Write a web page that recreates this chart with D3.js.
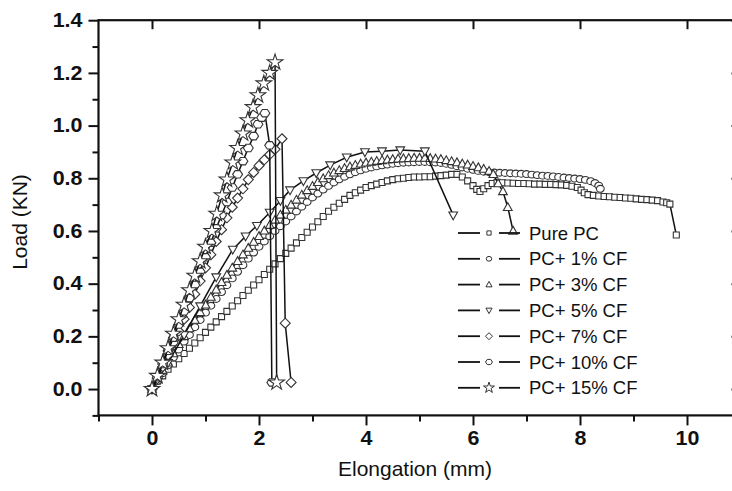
<!DOCTYPE html>
<html>
<head>
<meta charset="utf-8">
<script src="https://cdn.jsdelivr.net/npm/d3@7"></script>
<style>
  body { margin: 0; background: #fff; }
  svg text { font-family: Arial, "Liberation Sans", sans-serif; fill: #111; }
</style>
</head>
<body>
<div id="chart"></div>
<script>
// series: [elongation mm, load kN]
const seriesLabels = ["Pure PC", "PC+ 1% CF", "PC+ 3% CF", "PC+ 5% CF", "PC+ 7% CF", "PC+ 10% CF", "PC+ 15% CF"];
const seriesShapes = ["square", "circle", "triangle", "down", "diamond", "hexagon", "star"];

const purePC = [
  [0.00,0.00],[0.10,0.03],[0.20,0.05],[0.30,0.075],[0.40,0.095],[0.50,0.115],[0.60,0.135],[0.70,0.155],
  [0.80,0.175],[0.90,0.195],[1.00,0.215],[1.10,0.235],[1.20,0.255],[1.30,0.275],[1.40,0.295],[1.50,0.315],
  [1.60,0.335],[1.70,0.355],[1.80,0.375],[1.90,0.395],[2.00,0.415],[2.10,0.435],[2.20,0.455],[2.30,0.475],
  [2.40,0.495],[2.50,0.515],[2.60,0.535],[2.70,0.555],[2.80,0.575],[2.90,0.595],[3.00,0.615],[3.10,0.635],
  [3.20,0.655],[3.30,0.675],[3.40,0.69],[3.50,0.705],[3.60,0.72],[3.70,0.735],[3.80,0.745],[3.90,0.755],
  [4.00,0.765],[4.10,0.772],[4.20,0.778],[4.30,0.784],[4.40,0.79],[4.50,0.795],[4.60,0.798],[4.70,0.80],
  [4.80,0.803],[4.90,0.805],[5.00,0.805],[5.10,0.806],[5.20,0.806],[5.30,0.808],[5.40,0.81],[5.50,0.812],
  [5.60,0.815],[5.70,0.815],[5.80,0.805],[5.90,0.79],[6.00,0.772],[6.07,0.758],[6.13,0.75],[6.20,0.76],
  [6.28,0.772],[6.36,0.78],[6.45,0.785],[6.55,0.783],[6.65,0.782],[6.75,0.781],[6.85,0.78],[6.95,0.78],
  [7.05,0.779],[7.15,0.778],[7.25,0.778],[7.35,0.777],[7.45,0.777],[7.55,0.776],[7.65,0.775],[7.75,0.773],
  [7.85,0.77],[7.95,0.765],[8.02,0.755],[8.08,0.745],[8.15,0.738],[8.25,0.735],[8.35,0.733],[8.45,0.731],
  [8.55,0.73],[8.65,0.728],[8.75,0.727],[8.85,0.725],[8.95,0.724],[9.05,0.722],[9.15,0.72],[9.25,0.719],
  [9.35,0.717],[9.45,0.715],[9.55,0.71],[9.62,0.707],[9.68,0.702],[9.80,0.585]
];

const pc1 = [
  [0.0,0.00],[0.1,0.03],[0.2,0.06],[0.3,0.09],[0.4,0.12],[0.5,0.15],[0.6,0.18],[0.7,0.205],[0.8,0.235],
  [0.9,0.262],[1.0,0.29],[1.1,0.316],[1.2,0.342],[1.3,0.368],[1.4,0.394],[1.5,0.42],[1.6,0.445],[1.7,0.47],
  [1.8,0.495],[1.9,0.518],[2.0,0.54],[2.1,0.56],[2.2,0.58],[2.3,0.60],[2.4,0.618],[2.5,0.636],[2.6,0.655],
  [2.7,0.674],[2.8,0.692],[2.9,0.71],[3.0,0.727],[3.1,0.742],[3.2,0.757],[3.3,0.771],[3.4,0.784],[3.5,0.796],
  [3.6,0.806],[3.7,0.815],[3.8,0.823],[3.9,0.83],[4.0,0.836],[4.1,0.841],[4.2,0.845],[4.3,0.849],[4.4,0.852],
  [4.5,0.855],[4.6,0.857],[4.7,0.859],[4.8,0.86],[4.9,0.861],[5.0,0.862],[5.1,0.862],[5.2,0.861],[5.3,0.86],
  [5.4,0.858],[5.5,0.855],[5.6,0.851],[5.7,0.846],[5.8,0.841],[5.9,0.836],[6.0,0.832],[6.1,0.828],[6.2,0.825],
  [6.3,0.823],[6.4,0.822],[6.5,0.821],[6.6,0.82],[6.7,0.819],[6.8,0.818],[6.9,0.817],[7.0,0.816],[7.1,0.814],
  [7.2,0.812],[7.3,0.81],[7.4,0.809],[7.5,0.807],[7.6,0.805],[7.7,0.803],[7.8,0.801],[7.9,0.799],[8.0,0.797],
  [8.1,0.794],[8.2,0.789],[8.28,0.782],[8.35,0.772],[8.38,0.76]
];

const pc3 = [
  [0.0,0.00],[0.1,0.035],[0.2,0.07],[0.3,0.10],[0.4,0.135],[0.5,0.17],[0.6,0.20],[0.7,0.23],[0.8,0.262],
  [0.9,0.291],[1.0,0.32],[1.1,0.349],[1.2,0.377],[1.3,0.405],[1.4,0.433],[1.5,0.46],[1.6,0.485],[1.7,0.51],
  [1.8,0.535],[1.9,0.558],[2.0,0.58],[2.1,0.601],[2.2,0.622],[2.3,0.642],[2.4,0.661],[2.5,0.68],[2.6,0.699],
  [2.7,0.718],[2.8,0.737],[2.9,0.754],[3.0,0.77],[3.1,0.785],[3.2,0.799],[3.3,0.811],[3.4,0.821],[3.5,0.83],
  [3.6,0.838],[3.7,0.844],[3.8,0.85],[3.9,0.855],[4.0,0.859],[4.1,0.862],[4.2,0.865],[4.3,0.868],[4.4,0.87],
  [4.5,0.872],[4.6,0.874],[4.7,0.875],[4.8,0.876],[4.9,0.877],[5.0,0.877],[5.1,0.877],[5.2,0.876],[5.3,0.874],
  [5.4,0.872],[5.5,0.868],[5.6,0.864],[5.7,0.86],[5.8,0.855],[5.9,0.851],[6.0,0.846],[6.1,0.841],[6.2,0.835],
  [6.3,0.827],[6.38,0.815],[6.47,0.78],[6.56,0.75],[6.65,0.69],[6.75,0.60]
];

const pc5 = [
  [0.0,0.00],[0.3,0.10],[0.6,0.205],[0.9,0.315],[1.2,0.425],[1.51,0.53],[1.75,0.58],[1.96,0.62],[2.2,0.67],
  [2.4,0.715],[2.58,0.755],[2.83,0.79],[3.07,0.82],[3.33,0.85],[3.64,0.88],[3.98,0.90],[4.3,0.903],
  [4.64,0.907],[5.1,0.903],[5.63,0.66]
];

const pc7 = [
  [0.0,0.00],[0.1,0.04],[0.2,0.085],[0.3,0.13],[0.4,0.175],[0.5,0.22],[0.6,0.265],[0.7,0.31],[0.8,0.36],
  [0.9,0.41],[1.0,0.46],[1.1,0.51],[1.2,0.56],[1.3,0.605],[1.4,0.65],[1.5,0.69],[1.6,0.725],[1.7,0.76],
  [1.8,0.795],[1.9,0.822],[2.0,0.848],[2.1,0.87],[2.2,0.89],[2.3,0.91],[2.43,0.95],[2.49,0.25],[2.6,0.025]
];

const pc10 = [
  [0.0,0.00],[0.1,0.045],[0.2,0.095],[0.3,0.145],[0.4,0.195],[0.5,0.245],[0.6,0.295],[0.7,0.345],[0.8,0.395],
  [0.9,0.445],[1.0,0.50],[1.1,0.555],[1.2,0.61],[1.3,0.66],[1.4,0.71],[1.5,0.765],[1.6,0.815],[1.7,0.865],
  [1.8,0.915],[1.9,0.96],[1.98,1.005],[2.05,1.03],[2.11,1.047],[2.2,0.925],[2.24,0.025]
];

const pc15 = [
  [0.0,0.00],[0.1,0.05],[0.2,0.10],[0.3,0.155],[0.4,0.21],[0.5,0.265],[0.6,0.32],[0.7,0.375],[0.8,0.43],
  [0.9,0.485],[1.0,0.54],[1.12,0.60],[1.21,0.665],[1.31,0.735],[1.4,0.795],[1.51,0.86],[1.6,0.915],
  [1.7,0.97],[1.79,1.02],[1.89,1.07],[1.98,1.115],[2.09,1.16],[2.2,1.20],[2.3,1.24],[2.33,0.025]
];

const seriesData = [purePC, pc1, pc3, pc5, pc7, pc10, pc15];
const xMajorTicks = [0, 2, 4, 6, 8, 10];
const xMinorTicks = [-1, 1, 3, 5, 7, 9, 11];
const yMajorTicks = [0, 0.2, 0.4, 0.6, 0.8, 1.0, 1.2, 1.4];
const yMinorTicks = [-0.1, 0.1, 0.3, 0.5, 0.7, 0.9, 1.1, 1.3];

function markerPath(shape, r) {
  switch (shape) {
    case 'square':
      return `M${-r},${-r}h${2 * r}v${2 * r}h${-2 * r}Z`;
    case 'circle': {
      const rx = r * 1.15, ry = r;
      return `M${-rx},0a${rx},${ry} 0 1,0 ${2 * rx},0a${rx},${ry} 0 1,0 ${-2 * rx},0Z`;
    }
    case 'triangle':
      return `M0,${-r}L${r * 0.95},${r * 0.7}L${-r * 0.95},${r * 0.7}Z`;
    case 'down':
      return `M0,${r}L${r * 0.95},${-r * 0.7}L${-r * 0.95},${-r * 0.7}Z`;
    case 'diamond':
      return `M0,${-r}L${r},0L0,${r}L${-r},0Z`;
    case 'hexagon': {
      const pts = d3.range(6).map(i => {
        const a = Math.PI / 3 * i;
        return [r * 1.1 * Math.cos(a), r * 0.95 * Math.sin(a)];
      });
      return 'M' + pts.join('L') + 'Z';
    }
    case 'star':
      return d3.symbol(d3.symbolStar, r * r * 2.6)();
  }
}

const plotSizes = { square: 3, circle: 3.4, triangle: 4.6, down: 4.6, diamond: 5, hexagon: 4.5, star: 5.4 };
const tickStretch = 1.1;

class LoadChart {
  constructor(_config) {
    this.config = {
      parentElement: _config.parentElement,
      containerWidth: _config.containerWidth || 732,
      containerHeight: _config.containerHeight || 491
    };
    this.initVis();
    this.renderVis();
  }

  initVis() {
    let vis = this;

    vis.svg = d3.select(vis.config.parentElement)
      .append('svg')
      .attr('width', vis.config.containerWidth)
      .attr('height', vis.config.containerHeight);

    vis.xScale = d3.scaleLinear().domain([-1, 11]).range([98.5, 740.5]);
    vis.yScale = d3.scaleLinear().domain([-0.1, 1.4]).range([415.4, 20.2]);

    const [x0, x1] = vis.xScale.range();
    const [y0, y1] = vis.yScale.range();

    // bottom axis, outward ticks
    vis.svg.append('g')
      .attr('class', 'x-axis')
      .attr('transform', `translate(0,${y0})`)
      .call(d3.axisBottom(vis.xScale).tickValues(xMajorTicks).tickSize(10).tickPadding(6).tickFormat(d3.format('d')));
    vis.svg.append('g')
      .attr('transform', `translate(0,${y0})`)
      .call(d3.axisBottom(vis.xScale).tickValues(xMinorTicks).tickSize(6).tickFormat(''));

    // left axis
    vis.svg.append('g')
      .attr('class', 'y-axis')
      .attr('transform', `translate(${x0},0)`)
      .call(d3.axisLeft(vis.yScale).tickValues(yMajorTicks).tickSize(10).tickPadding(6).tickFormat(d3.format('.1f')));
    vis.svg.append('g')
      .attr('transform', `translate(${x0},0)`)
      .call(d3.axisLeft(vis.yScale).tickValues(yMinorTicks).tickSize(6).tickFormat(''));

    // top and right axes, inward ticks
    vis.svg.append('g')
      .attr('transform', `translate(0,${y1})`)
      .call(d3.axisBottom(vis.xScale).tickValues(xMajorTicks).tickSize(9).tickFormat(''));
    vis.svg.append('g')
      .attr('transform', `translate(${x1},0)`)
      .call(d3.axisLeft(vis.yScale).tickValues(yMajorTicks).tickSize(9).tickFormat(''));

    vis.svg.selectAll('.domain').remove();
    vis.svg.selectAll('.tick line').attr('stroke', '#111').attr('stroke-width', 2);
    vis.svg.selectAll('.tick text')
      .attr('font-family', 'Arial, "Liberation Sans", sans-serif')
      .attr('font-size', 19.5)
      .attr('font-weight', 'bold')
      .attr('fill', '#111');
    // tick labels in the figure are a bit wider than plain Arial
    vis.svg.selectAll('.y-axis .tick text')
      .attr('x', -16 / tickStretch)
      .attr('transform', `scale(${tickStretch},1)`);
    vis.svg.selectAll('.x-axis .tick text')
      .attr('transform', `scale(${tickStretch},1)`);

    vis.svg.append('rect')
      .attr('x', x0).attr('y', y1)
      .attr('width', x1 - x0).attr('height', y0 - y1)
      .attr('fill', 'none')
      .attr('stroke', '#111')
      .attr('stroke-width', 2.2);

    vis.svg.append('text')
      .attr('x', 415).attr('y', 476)
      .attr('text-anchor', 'middle')
      .attr('font-size', 21)
      .text('Elongation (mm)');

    vis.svg.append('text')
      .attr('transform', 'translate(27,222) rotate(-90)')
      .attr('text-anchor', 'middle')
      .attr('font-size', 21)
      .text('Load (KN)');

    vis.marksG = vis.svg.append('g');
    vis.legendG = vis.svg.append('g');
  }

  renderVis() {
    let vis = this;

    const line = d3.line()
      .x(d => vis.xScale(d[0]))
      .y(d => vis.yScale(d[1]));

    seriesData.forEach((data, i) => {
      const shape = seriesShapes[i];
      const g = vis.marksG.append('g');
      g.append('path')
        .datum(data)
        .attr('fill', 'none')
        .attr('stroke', '#111')
        .attr('stroke-width', 1.5)
        .attr('d', line);
      g.selectAll('.mark')
        .data(data)
        .join('path')
        .attr('class', 'mark')
        .attr('transform', d => `translate(${vis.xScale(d[0])},${vis.yScale(d[1])})`)
        .attr('d', markerPath(shape, plotSizes[shape]))
        .attr('fill', '#fff')
        .attr('stroke', '#333')
        .attr('stroke-width', 1.1);
    });

    // legend
    const rows = vis.legendG.selectAll('g')
      .data(seriesLabels)
      .join('g')
      .attr('transform', (d, i) => `translate(458,${233 + i * 25.8})`);

    rows.append('line')
      .attr('x1', 0).attr('x2', 22)
      .attr('stroke', '#111').attr('stroke-width', 1.8);
    rows.append('line')
      .attr('x1', 41).attr('x2', 62)
      .attr('stroke', '#111').attr('stroke-width', 1.8);
    rows.append('path')
      .attr('transform', 'translate(31,0)')
      .attr('d', (d, i) => markerPath(seriesShapes[i], plotSizes[seriesShapes[i]] * 0.7))
      .attr('fill', '#fff')
      .attr('stroke', '#333')
      .attr('stroke-width', 1);
    rows.append('text')
      .attr('x', 71).attr('y', 6.5)
      .attr('font-size', 18.5)
      .text(d => d);
  }
}

new LoadChart({ parentElement: '#chart' });
</script>
</body>
</html>
